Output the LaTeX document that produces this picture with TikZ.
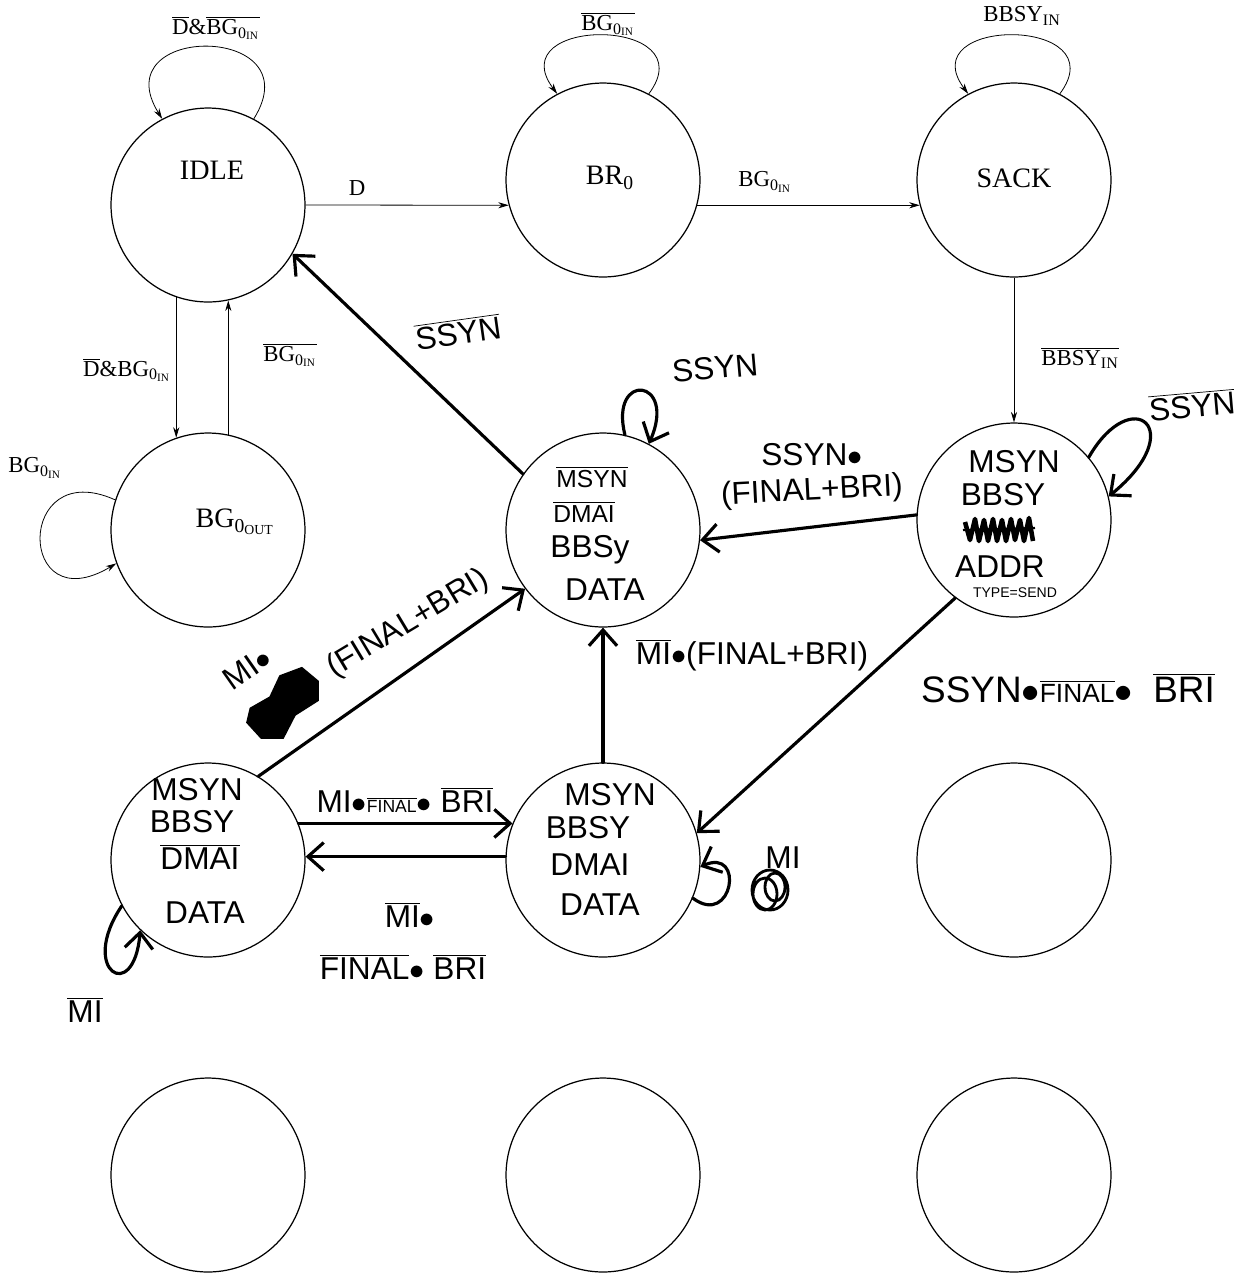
\documentclass[tikz,border=0pt]{standalone}
\usepackage{fontspec}
\setmainfont{Liberation Serif}
\setsansfont{Liberation Sans}
\usetikzlibrary{arrows.meta}
\newcommand{\ov}[1]{$\overline{\mbox{#1}}$}
\newcommand{\bgin}{BG\textsubscript{0\textsubscript{IN}}}
\tikzset{
	stcirc/.style={draw, circle, line width=0.7pt, minimum size=3.88cm, inner sep=0pt},
	typed/.style={line width=0.45pt, -{Stealth[length=6pt,width=3.5pt]}},
	hand/.style={line width=1.8pt, line cap=round, -{Straight Barb[length=9pt,width=16pt,line width=1.8pt]}},
	tlabel/.style={font=\fontsize{13}{15}\selectfont, inner sep=1pt},
	slabel/.style={font=\fontsize{16}{18}\selectfont, inner sep=1pt},
	hlabel/.style={font=\sffamily\fontsize{18}{21}\selectfont, inner sep=1pt},
	hsmall/.style={font=\sffamily\fontsize{14}{16}\selectfont, inner sep=1pt},
	scribble/.style={line width=2.6pt, line join=round},
}
\begin{document}
\begin{tikzpicture}[x=0.02cm, y=0.02cm]
	\useasboundingbox (0,0) rectangle (1236,-1276);
	\node[stcirc] at (208,-205) (idle) {};
	\node[stcirc] at (603,-180) (br) {};
	\node[stcirc] at (1014,-180) (sack) {};
	\node[stcirc] at (208,-530) (bgout) {};
	\node[stcirc] at (603,-530) (wait) {};
	\node[stcirc] at (1014,-520) (addr) {};
	\node[stcirc] at (208,-860) (sdata) {};
	\node[stcirc] at (603,-860) (mdata) {};
	\node[stcirc] at (1014,-860) (e1) {};
	\node[stcirc] at (208,-1175) (e2) {};
	\node[stcirc] at (603,-1175) (e3) {};
	\node[stcirc] at (1014,-1175) (e4) {};

	\node[slabel] at (212,-170) (idlet) {IDLE};
	\node[slabel] at (610,-178) (brt) {BR\textsubscript{0}};
	\node[slabel] at (1014,-178) (sackt) {SACK};
	\node[slabel] at (235,-522) (bgoutt) {BG\textsubscript{0\textsubscript{OUT}}};

	\node[tlabel] at (216,-28) (l1) {\ov{D}\&\ov{\bgin}};
	\node[tlabel] at (608,-24) (l2) {\ov{\bgin}};
	\node[tlabel] at (1022,-16) (l3) {BBSY\textsubscript{IN}};
	\node[tlabel] at (357,-188) (l4) {D};
	\node[tlabel] at (765,-182) (l5) {\bgin};
	\node[tlabel] at (127,-370) (l6) {\ov{D}\&\bgin};
	\node[tlabel] at (290,-355) (l7) {\ov{\bgin}};
	\node[tlabel] at (35,-468) (l8) {\bgin};
	\node[tlabel] at (1080,-358) (l9) {\ov{BBSY\textsubscript{IN}}};

	\path[typed] (idle.0) edge (br.195)
	(br.-15) edge (sack.195)
	(idle.251) edge (bgout.109)
	(bgout.78) edge (idle.282)
	(sack) edge (addr);
	\draw[typed] (idle.62) .. controls +(60,96) and +(-60,96) .. (idle.118);
	\draw[typed] (br.62) .. controls +(58,78) and +(-58,78) .. (br.118);
	\draw[typed] (sack.62) .. controls +(58,78) and +(-58,78) .. (sack.118);
	\draw[typed] (bgout.162) .. controls +(-100,45) and +(-100,-60) .. (bgout.200);

	\node[hsmall] at (592,-477) (w1) {\ov{MSYN}};
	\node[hsmall] at (584,-512) (w2) {\ov{DMAI}};
	\node[hlabel] at (590,-550) (w3) {BBSy};
	\node[hlabel] at (605,-590) (w4) {DATA};

	\node[hlabel] at (1014,-462) (a1) {MSYN};
	\node[hlabel] at (1003,-495) (a2) {BBSY};
	\node[hlabel] at (1000,-567) (a3) {ADDR};
	\node[font=\sffamily\fontsize{8}{9}\selectfont] at (1015,-593) (a4) {TYPE=SEND};
	\draw[scribble] (965,-522) -- (970,-540) -- (975,-519) -- (979,-541) -- (984,-520) -- (988,-541) -- (993,-519) -- (997,-541) -- (1002,-520) -- (1006,-541) -- (1011,-519) -- (1015,-540) -- (1020,-520) -- (1024,-541) -- (1029,-518) -- (1033,-541);
	\draw[line width=1.2pt] (963,-530) -- (1035,-528);

	\node[hlabel] at (197,-790) (s1) {MSYN};
	\node[hlabel] at (192,-822) (s2) {BBSY};
	\node[hlabel] at (200,-857) (s3) {\ov{DMAI}};
	\node[hlabel] at (205,-913) (s4) {DATA};

	\node[hlabel] at (610,-795) (m1) {MSYN};
	\node[hlabel] at (588,-828) (m2) {BBSY};
	\node[hlabel] at (590,-865) (m3) {DMAI};
	\node[hlabel] at (600,-905) (m4) {DATA};

	\draw[hand] (wait.145) -- (idle.-30);
	\draw[hand] (addr.177) -- (wait.-6);
	\draw[hand] (addr.-127) -- (mdata.16);
	\draw[hand] (mdata.90) -- (wait.-90);
	\draw[hand] (sdata.59) -- (wait.217);
	\draw[hand] (sdata.22) -- (mdata.158);
	\draw[hand] (mdata.178) -- (sdata.2);
	\draw[hand] (wait.77) .. controls +(-16,64) and +(29,66) .. (wait.62);
	\draw[hand] (addr.40) .. controls +(43,75) and +(82,67) .. (addr.14);
	\draw[hand] (mdata.-23) .. controls +(40,-30) and +(45,20) .. (mdata.-4);
	\draw[hand] (sdata.208) .. controls +(-44,-65) and +(-6,-75) .. (sdata.226);

	\node[hlabel, rotate=8] at (458,-332) (h1) {\ov{SSYN}};
	\node[hlabel, rotate=5] at (715,-368) (h2) {SSYN};
	\node[hlabel] at (812,-455) (h3) {SSYN$\bullet$};
	\node[hlabel, rotate=3] at (812,-492) (h4) {(FINAL+BRI)};
	\node[hlabel, rotate=5] at (1192,-405) (h5) {\ov{SSYN}};
	\node[hlabel, font=\sffamily\fontsize{21}{24}\selectfont] at (1068,-688) (h6) {SSYN$\bullet$\ov{\fontsize{15}{17}\selectfont FINAL}$\bullet$\ \ \ov{BRI}};
	\node[hlabel] at (752,-655) (h7) {\ov{MI}$\bullet$(FINAL+BRI)};
	\node[hlabel, rotate=35] at (247,-668) (h8) {MI$\bullet$};
	\node[hlabel, rotate=31] at (408,-624) (h9) {(FINAL+BRI)};
	\fill[rotate around={45:(285,-705)}] (245,-690) -- (258,-682) -- (280,-688) -- (302,-680) -- (324,-690) -- (326,-712) -- (312,-726) -- (285,-720) -- (260,-728) -- (244,-712) -- cycle;
	\node[hlabel] at (405,-800) (h10) {MI$\bullet$\ov{\fontsize{10}{12}\selectfont FINAL}$\bullet$ \ov{BRI}};
	\node[hlabel] at (410,-915) (h11) {\ov{MI}$\bullet$};
	\node[hlabel] at (403,-967) (h12) {\ov{FINAL}$\bullet$ \ov{BRI}};
	\node[hlabel] at (783,-858) (h13) {MI};
	\draw[scribble, line width=1.6pt] (770,-890) ellipse (18 and 20) (765,-894) ellipse (12 and 16) (775,-887) ellipse (10 and 14);
	\node[hlabel] at (85,-1010) (h14) {\ov{MI}};
\end{tikzpicture}
\end{document}
